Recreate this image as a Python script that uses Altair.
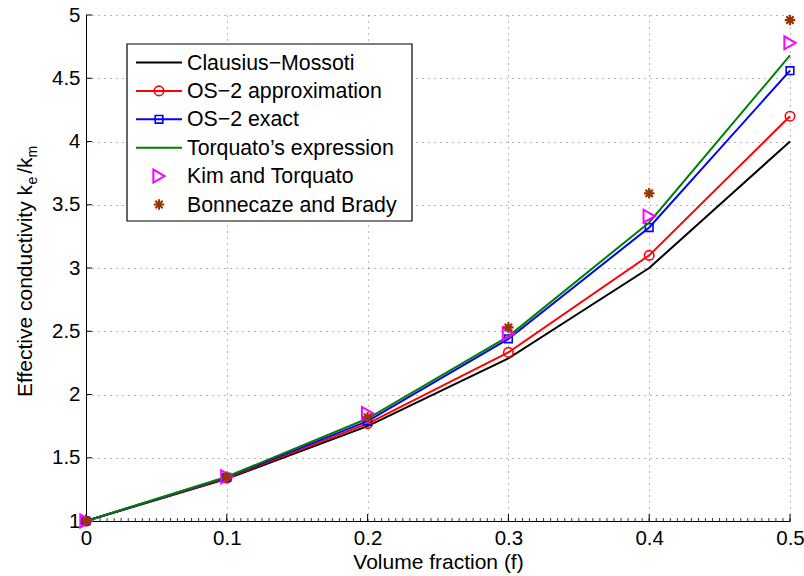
import altair as alt
import numpy as np
import pandas as pd

# ---- data -------------------------------------------------------------
f = [0.0, 0.1, 0.2, 0.3, 0.4, 0.5]
clausius = [1.0, 1.333, 1.75, 2.286, 3.0, 4.0]
os2_approx = [1.0, 1.34, 1.77, 2.333, 3.10, 4.20]
os2_exact = [1.0, 1.345, 1.79, 2.44, 3.32, 4.56]
torquato = [1.0, 1.35, 1.81, 2.46, 3.36, 4.68]
kim = [1.0, 1.35, 1.85, 2.48, 3.41, 4.78]
bonnecaze = [1.0, 1.35, 1.82, 2.53, 3.59, 4.96]

names = [
    "Clausius\u2212Mossoti",
    "OS\u22122 approximation",
    "OS\u22122 exact",
    "Torquato\u2019s expression",
    "Kim and Torquato",
    "Bonnecaze and Brady",
]
colors = ["#000000", "#ff0000", "#0000ff", "#008000", "#ff00ff", "#993300"]

x_major = [0.0, 0.1, 0.2, 0.3, 0.4, 0.5]
y_major = [1.0, 1.5, 2.0, 2.5, 3.0, 3.5, 4.0, 4.5, 5.0]
x_minor = [round(v, 3) for v in np.arange(0.0, 0.5001, 0.005)]

# y-axis title pieces: (text, is_subscript)
y_title_parts = [
    ("Effective conductivity k", False),
    ("e", True),
    ("/k", False),
    ("m", True),
]

# ---- layout -----------------------------------------------------------
W, H = 704, 506
FONT = "Liberation Sans"
FS = 21
SUB_FS = 14

xs = alt.Scale(domain=[0, 0.5], nice=False, zero=False)
ys = alt.Scale(domain=[1, 5], nice=False, zero=False)

x_axis = alt.Axis(
    values=x_major, format="~g", grid=True, ticks=False, labelFlush=False,
    gridDash=[1, 5], gridColor="#6e6e6e", gridWidth=1,
    domainColor="#000000", domainWidth=1,
    labelFont=FONT, labelFontSize=FS - 0.5, labelColor="#000000", labelPadding=7,
    title="Volume fraction (f)", titleFont=FONT, titleFontSize=FS,
    titleFontWeight="normal", titleColor="#000000", titlePadding=3,
)
y_axis = alt.Axis(
    values=y_major, format="~g", grid=True, ticks=False, labelFlush=False,
    gridDash=[1, 5], gridColor="#6e6e6e", gridWidth=1,
    domainColor="#000000", domainWidth=1,
    labelFont=FONT, labelFontSize=FS - 0.5, labelColor="#000000", labelPadding=6,
    title="",
)


def xenc(field):
    return alt.X(f"{field}:Q", scale=xs, axis=x_axis)


def yenc(field):
    return alt.Y(f"{field}:Q", scale=ys, axis=y_axis)


def series_df(vals):
    return pd.DataFrame({"f": f, "k": vals})


def line_layer(vals, color):
    return alt.Chart(series_df(vals)).mark_line(
        color=color, strokeWidth=2, clip=False
    ).encode(x=xenc("f"), y=yenc("k"))


def point_layer(vals, color, shape, size, sw=1.6):
    return alt.Chart(series_df(vals)).mark_point(
        shape=shape, filled=False, color=color, size=size,
        strokeWidth=sw, opacity=1, clip=False
    ).encode(x=xenc("f"), y=yenc("k"))


ASTERISK = "M0,-1L0,1M-1,0L1,0M-0.7,-0.7L0.7,0.7M-0.7,0.7L0.7,-0.7"

# inward tick marks
xt_major = alt.Chart(pd.DataFrame({"t": x_major})).mark_rule(
    color="#000000", strokeWidth=1
).encode(x=xenc("t"), y=alt.value(H), y2=alt.value(H - 7))
xt_minor = alt.Chart(pd.DataFrame({"t": x_minor})).mark_rule(
    color="#000000", strokeWidth=0.8
).encode(x=xenc("t"), y=alt.value(H), y2=alt.value(H - 3))
yt_major = alt.Chart(pd.DataFrame({"t": y_major})).mark_rule(
    color="#000000", strokeWidth=1
).encode(y=yenc("t"), x=alt.value(0), x2=alt.value(6))

layers = [
    xt_major, xt_minor, yt_major,
    line_layer(clausius, colors[0]),
    line_layer(os2_approx, colors[1]),
    point_layer(os2_approx, colors[1], "circle", 90),
    line_layer(os2_exact, colors[2]),
    point_layer(os2_exact, colors[2], "square", 58),
    line_layer(torquato, colors[3]),
    point_layer(kim, colors[4], "triangle-right", 170, 2),
    point_layer(bonnecaze, colors[5], ASTERISK, 110, 2.2),
]

one = pd.DataFrame({"a": [0]})

# ---- rotated y-axis title with real subscripts ----------------------
# approximate advance widths (em) of the Arial-metric font
ADV = {
    "E": .667, "f": .278, "e": .556, "c": .5, "t": .278, "i": .222, "v": .5,
    " ": .278, "o": .556, "n": .556, "d": .556, "u": .556, "y": .5, "k": .5,
    "/": .278, "m": .833,
}
title_base_x = -54      # baseline of the rotated main text
title_start_y = 382     # text runs upward from here
cursor = title_start_y
for text, sub in y_title_parts:
    size = SUB_FS if sub else FS
    layers.append(
        alt.Chart(pd.DataFrame({"txt": [text]})).mark_text(
            align="left", baseline="alphabetic", angle=270, font=FONT,
            fontSize=size, color="#000000", clip=False
        ).encode(
            x=alt.value(title_base_x + (5 if sub else 0)),
            y=alt.value(cursor),
            text="txt:N",
        )
    )
    cursor -= sum(ADV.get(ch, .55) for ch in text) * size + (3 if sub else 0)

# ---- legend box -------------------------------------------------------
LX0, LX1, LY0, LY1 = 41, 326, 29, 206
layers.append(
    alt.Chart(one).mark_rect(fill="#ffffff", stroke="#000000", strokeWidth=1.2).encode(
        x=alt.value(LX0), x2=alt.value(LX1), y=alt.value(LY0), y2=alt.value(LY1)
    )
)

row0, step = 47.5, 28.4
sample_x0, sample_x1, sample_mid, text_x = 50, 96, 73, 101
legend_marks = [
    (True, None, 0),
    (True, "circle", 90),
    (True, "square", 58),
    (True, None, 0),
    (False, "triangle-right", 170),
    (False, ASTERISK, 110),
]
for i, (name, color, (has_line, shape, size)) in enumerate(zip(names, colors, legend_marks)):
    yy = row0 + i * step
    if has_line:
        layers.append(
            alt.Chart(one).mark_rule(color=color, strokeWidth=2).encode(
                x=alt.value(sample_x0), x2=alt.value(sample_x1), y=alt.value(yy)
            )
        )
    if shape:
        layers.append(
            alt.Chart(one).mark_point(
                shape=shape, filled=False, color=color, size=size,
                strokeWidth=2 if not has_line else 1.6, opacity=1
            ).encode(x=alt.value(sample_mid), y=alt.value(yy))
        )
    layers.append(
        alt.Chart(pd.DataFrame({"label": [name]})).mark_text(
            align="left", baseline="middle", font=FONT, fontSize=FS + 0.3, color="#000000"
        ).encode(x=alt.value(text_x), y=alt.value(yy + 1), text="label:N")
    )

chart = alt.layer(*layers).properties(
    width=W, height=H,
    autosize=alt.AutoSizeParams(type="none"),
    padding={"left": 86, "top": 15, "right": 14, "bottom": 55},
    background="#ffffff",
).configure_view(stroke=None)

chart.save("out.html", embed_options={"renderer": "svg", "actions": False})
